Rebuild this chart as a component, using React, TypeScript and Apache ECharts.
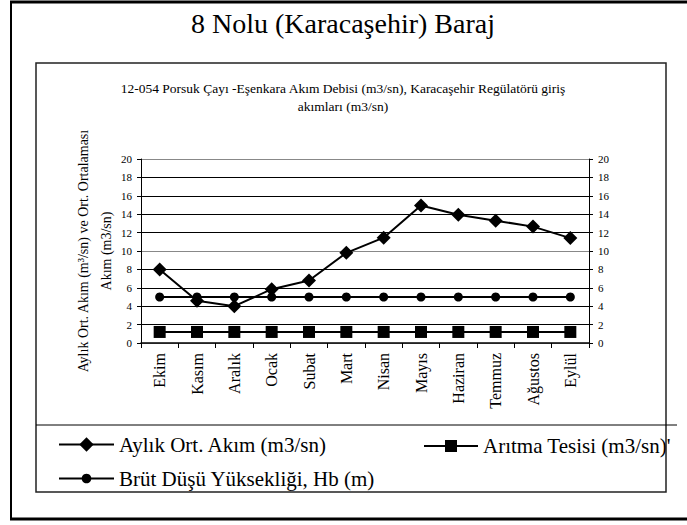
import React, { useEffect, useRef } from "react";
import * as echarts from "echarts";

const months = ["Ekim", "Kasım", "Aralık", "Ocak", "Subat", "Mart", "Nisan", "Mayıs", "Haziran", "Temmuz", "Ağustos", "Eylül"];
const aylikOrtAkim = [8.0, 4.6, 4.0, 5.85, 6.8, 9.8, 11.45, 14.95, 13.95, 13.3, 12.65, 11.4];
const aritmaTesisi = [1.2, 1.2, 1.2, 1.2, 1.2, 1.2, 1.2, 1.2, 1.2, 1.2, 1.2, 1.2];
const brutDusu = [5, 5, 5, 5, 5, 5, 5, 5, 5, 5, 5, 5];
const yTicks = [0, 2, 4, 6, 8, 10, 12, 14, 16, 18, 20];

const SERIF = "'Liberation Serif', 'Times New Roman', serif";

export default function App() {
  const ref = useRef<HTMLDivElement>(null);
  useEffect(() => {
    if (!ref.current) return;
    const chart = echarts.init(ref.current, undefined, { renderer: "svg" });
    const yAxisBase = (pos: "left" | "right") => ({
      type: "value" as const,
      position: pos,
      min: yTicks[0],
      max: yTicks[yTicks.length - 1],
      interval: 2,
      axisLine: { show: true, lineStyle: { color: "#000", width: 1 } },
      axisTick: { show: true, length: 4, lineStyle: { color: "#000" } },
      axisLabel: { fontFamily: SERIF, fontSize: 11, color: "#000", margin: 9 },
      splitLine: pos === "left"
        ? { show: true, lineStyle: { color: ["#888", "#000", "#000", "#000", "#000"], width: 1 } }
        : { show: false },
    });
    const lineSeries = (name: string, data: number[], symbol: string, size: number) => ({
      name,
      type: "line" as const,
      data,
      symbol,
      symbolSize: size,
      lineStyle: { color: "#000", width: 2 },
      itemStyle: { color: "#000" },
      z: 3,
    });
    const legendBase = (left: number, centerY: number, width: number, height: number, name: string) => ({
      left,
      top: centerY - height / 2,
      padding: 0,
      orient: "horizontal" as const,
      itemWidth: width,
      itemHeight: height,
      itemGap: 0,
      textStyle: { fontFamily: SERIF, fontSize: 21, color: "#000" },
      data: [name],
      selectedMode: false,
    });
    chart.setOption({
      animation: false,
      backgroundColor: "#fff",
      grid: { left: 141, right: 98, top: 159, bottom: 182 },
      xAxis: {
        type: "category",
        data: months,
        boundaryGap: true,
        axisLine: { show: true, lineStyle: { color: "#000", width: 1.5 } },
        axisTick: { show: true, length: 5, alignWithLabel: false, lineStyle: { color: "#000" } },
        axisLabel: { rotate: 90, fontFamily: SERIF, fontSize: 16, color: "#000", margin: 10, interval: 0 },
      },
      yAxis: [yAxisBase("left"), yAxisBase("right")],
      legend: [
        legendBase(58, 443, 55, 18, "Aylık Ort. Akım (m3/sn)"),
        legendBase(423, 443, 54, 15, "Arıtma Tesisi (m3/sn)'"),
        legendBase(58, 474, 55, 12, "Brüt Düşü Yüksekliği, Hb (m)"),
      ],
      series: [
        lineSeries("Aylık Ort. Akım (m3/sn)", aylikOrtAkim, "diamond", 14),
        lineSeries("Arıtma Tesisi (m3/sn)'", aritmaTesisi, "rect", 12),
        lineSeries("Brüt Düşü Yüksekliği, Hb (m)", brutDusu, "circle", 9),
      ],
      graphic: [
        // outer frame
        { type: "line", shape: { x1: 10, y1: 2, x2: 687, y2: 2 }, style: { stroke: "#000", lineWidth: 3 } },
        { type: "line", shape: { x1: 11, y1: 2, x2: 11, y2: 519 }, style: { stroke: "#000", lineWidth: 2 } },
        { type: "line", shape: { x1: 10, y1: 519, x2: 687, y2: 519 }, style: { stroke: "#000", lineWidth: 3 } },
        // inner frame
        { type: "rect", shape: { x: 36, y: 63, width: 630, height: 429 }, style: { fill: "none", stroke: "#222", lineWidth: 1.5 }, z: 10 },
        { type: "line", shape: { x1: 36, y1: 425, x2: 677, y2: 425 }, style: { stroke: "#000", lineWidth: 1 }, z: 10 },
        // titles
        { type: "text", x: 343, y: 23, style: { text: "8 Nolu (Karacaşehir) Baraj", fontFamily: SERIF, fontSize: 28, fill: "#000", align: "center", verticalAlign: "middle" } },
        { type: "text", x: 343, y: 88, style: { text: "12-054 Porsuk Çayı -Eşenkara Akım Debisi (m3/sn), Karacaşehir Regülatörü giriş", fontFamily: SERIF, fontSize: 13.5, fill: "#000", align: "center", verticalAlign: "middle" } },
        { type: "text", x: 343, y: 106, style: { text: "akımları (m3/sn)", fontFamily: SERIF, fontSize: 13.5, fill: "#000", align: "center", verticalAlign: "middle" } },
        // y axis title
        { type: "text", x: 83, y: 251, rotation: Math.PI / 2, style: { text: "Aylık Ort. Akım (m³/sn) ve Ort. Ortalaması", fontFamily: SERIF, fontSize: 14, fill: "#000", align: "center", verticalAlign: "middle" } },
        { type: "text", x: 106, y: 251, rotation: Math.PI / 2, style: { text: "Akım (m3/sn)", fontFamily: SERIF, fontSize: 14, fill: "#000", align: "center", verticalAlign: "middle" } },
      ],
    });
    return () => chart.dispose();
  }, []);
  return <div ref={ref} style={{ position: "fixed", left: 0, top: 0, width: 687, height: 525 }} />;
}
